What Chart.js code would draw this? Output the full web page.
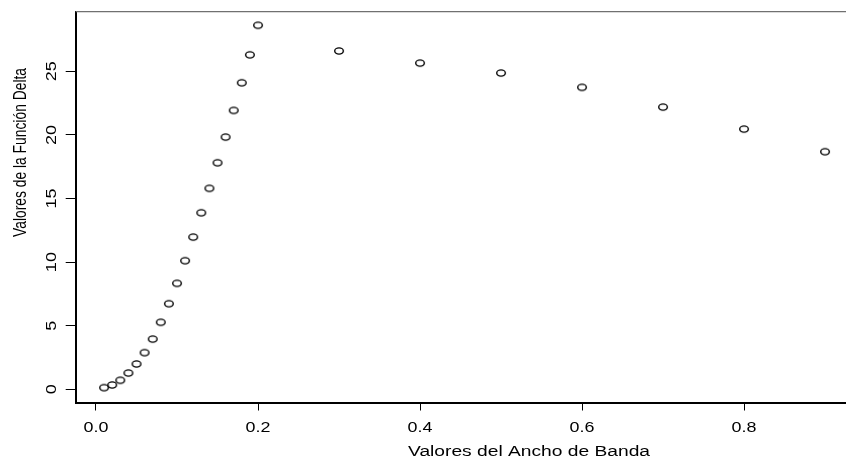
<!DOCTYPE html>
<html>
<head>
<meta charset="utf-8">
<title>Función Delta</title>
<script src="https://cdn.jsdelivr.net/npm/chart.js@4/dist/chart.umd.min.js"></script>
<style>
  html, body { margin: 0; padding: 0; background: #ffffff; }
  canvas { display: block; }
</style>
</head>
<body>
<canvas id="chart" width="846" height="459"></canvas>
<script>
// Bandwidth values (x) and the delta function evaluated at each (y)
const bandwidths = [0.01, 0.02, 0.03, 0.04, 0.05, 0.06, 0.07, 0.08, 0.09, 0.10,
                    0.11, 0.12, 0.13, 0.14, 0.15, 0.16, 0.17, 0.18, 0.19, 0.20,
                    0.3, 0.4, 0.5, 0.6, 0.7, 0.8, 0.9];
const deltaValues = [0.13, 0.34, 0.71, 1.28, 1.99, 2.88, 3.95, 5.27, 6.73, 8.33,
                     10.11, 11.97, 13.88, 15.80, 17.81, 19.83, 21.93, 24.10, 26.30, 28.62,
                     26.60, 25.65, 24.87, 23.74, 22.19, 20.46, 18.68];

// Axis ticks
const xTickValues = [0, 0.2, 0.4, 0.6, 0.8];
const xTickLabels = ['0.0', '0.2', '0.4', '0.6', '0.8'];
const yTickValues = [0, 5, 10, 15, 20, 25];
const yTickLabels = ['0', '5', '10', '15', '20', '25'];

const xAxisTitle = 'Valores del Ancho de Banda';
const yAxisTitle = 'Valores de la Función Delta';

const FONT = '"Liberation Sans", Arial, Helvetica, sans-serif';

// Open oval marker
function makeMarker() {
  const c = document.createElement('canvas');
  c.width = 14; c.height = 12;
  const g = c.getContext('2d');
  g.strokeStyle = '#000';
  g.lineWidth = 1.4;
  g.beginPath();
  g.ellipse(7, 6, 4.3, 3.1, 0, 0, Math.PI * 2);
  g.stroke();
  return c;
}
const marker = makeMarker();

function drawText(ctx, text, x, y, angle, size, sAlong, sAcross) {
  ctx.save();
  ctx.translate(x, y);
  ctx.rotate(angle);
  ctx.scale(sAlong, sAcross);
  ctx.font = size + 'px ' + FONT;
  ctx.textAlign = 'center';
  ctx.textBaseline = 'middle';
  ctx.fillStyle = '#000';
  ctx.fillText(text, 0, 0);
  ctx.restore();
}

function fitScale(ctx, text, size, target) {
  ctx.save();
  ctx.font = size + 'px ' + FONT;
  const w = ctx.measureText(text).width;
  ctx.restore();
  return target / w;
}

// Frame top line, tick labels and axis titles
const annotate = {
  id: 'annotate',
  afterDraw(chart) {
    const ctx = chart.ctx;
    const area = chart.chartArea;
    const xs = chart.scales.x;
    const ys = chart.scales.y;

    ctx.save();
    ctx.strokeStyle = '#707070';
    ctx.lineWidth = 1.3;
    ctx.beginPath();
    ctx.moveTo(area.left, area.top);
    ctx.lineTo(area.right, area.top);
    ctx.stroke();
    ctx.restore();

    xTickValues.forEach((v, i) => {
      drawText(ctx, xTickLabels[i], xs.getPixelForValue(v), 428, 0, 14, 1.28, 1);
    });
    yTickValues.forEach((v, i) => {
      drawText(ctx, yTickLabels[i], 52, ys.getPixelForValue(v), -Math.PI / 2, 15, 1.2, 1);
    });

    drawText(ctx, xAxisTitle, 529, 452, 0, 14, fitScale(ctx, xAxisTitle, 14, 242), 1);
    drawText(ctx, yAxisTitle, 21, 152.5, -Math.PI / 2, 14, fitScale(ctx, yAxisTitle, 14, 169), 1.35);
  }
};

const points = bandwidths.map((b, i) => ({ x: b, y: deltaValues[i] }));

new Chart(document.getElementById('chart'), {
  type: 'scatter',
  data: {
    datasets: [{
      data: points,
      pointStyle: marker,
      pointRadius: 5,
      pointHoverRadius: 5,
      showLine: false
    }]
  },
  options: {
    responsive: false,
    animation: false,
    events: [],
    layout: { autoPadding: false, padding: { top: 11.7, left: 0, right: 0, bottom: 0 } },
    plugins: {
      legend: { display: false },
      tooltip: { enabled: false }
    },
    scales: {
      x: {
        type: 'linear',
        min: -0.02506,
        max: 0.9259,
        afterBuildTicks(scale) { scale.ticks = xTickValues.map(v => ({ value: v })); },
        afterFit(scale) { scale.height = 56; },
        ticks: { display: false },
        grid: { display: true, drawOnChartArea: false, drawTicks: true, tickLength: 7.5, color: '#000', lineWidth: 1 },
        border: { display: true, color: '#000', width: 2 }
      },
      y: {
        type: 'linear',
        min: -1.077,
        max: 29.69,
        afterBuildTicks(scale) { scale.ticks = yTickValues.map(v => ({ value: v })); },
        afterFit(scale) { scale.width = 75.7; },
        ticks: { display: false },
        grid: { display: true, drawOnChartArea: false, drawTicks: true, tickLength: 10, color: '#000', lineWidth: 1 },
        border: { display: true, color: '#000', width: 2 }
      }
    }
  },
  plugins: [annotate]
});
</script>
</body>
</html>
